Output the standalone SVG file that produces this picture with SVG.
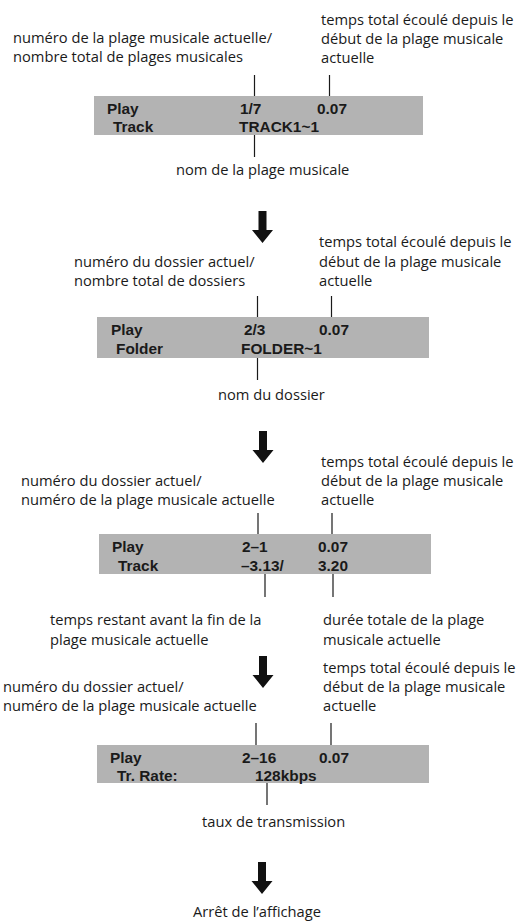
<svg xmlns="http://www.w3.org/2000/svg" width="521" height="921" viewBox="0 0 521 921">
<defs>
<style>
.lbl{font-family:"Open Sans","Noto Sans",sans-serif;font-size:14.7px;fill:#1a1a1a}
.bx{fill:#b3b3b3}
.bt{font-family:"Liberation Sans",Arial,sans-serif;font-size:15.4px;font-weight:bold;fill:#1a1a1a}
.tk{stroke:#1a1a1a;stroke-width:1.2;fill:none}
.ar{fill:#111}
</style>
<path id="arrow" d="M-4,0 H4 V19 H10.5 L0,32 L-10.5,19 H-4 Z"/>
</defs>
<rect width="521" height="921" fill="#fff"/>

<g id="panel1">
<text class="lbl" x="321" y="25">temps total écoulé depuis le</text>
<text class="lbl" x="321" y="44">début de la plage musicale</text>
<text class="lbl" x="321" y="63">actuelle</text>
<text class="lbl" x="13" y="43">numéro de la plage musicale actuelle/</text>
<text class="lbl" x="13" y="62">nombre total de plages musicales</text>
<rect class="bx" x="94" y="96" width="329" height="39"/>
<text class="bt" x="107" y="114">Play</text>
<text class="bt" x="113" y="132">Track</text>
<text class="bt" x="240" y="114">1/7</text>
<text class="bt" x="317" y="114">0.07</text>
<text class="bt" x="239" y="132">TRACK1~1</text>
<text class="lbl" x="176" y="175">nom de la plage musicale</text>
</g>

<g id="panel2">
<text class="lbl" x="319" y="247">temps total écoulé depuis le</text>
<text class="lbl" x="319" y="267">début de la plage musicale</text>
<text class="lbl" x="319" y="286">actuelle</text>
<text class="lbl" x="74" y="267">numéro du dossier actuel/</text>
<text class="lbl" x="74" y="286">nombre total de dossiers</text>
<rect class="bx" x="97" y="317" width="332" height="41"/>
<text class="bt" x="111" y="335">Play</text>
<text class="bt" x="116" y="354">Folder</text>
<text class="bt" x="244" y="335">2/3</text>
<text class="bt" x="319" y="335">0.07</text>
<text class="bt" x="241" y="354">FOLDER~1</text>
<text class="lbl" x="218" y="400">nom du dossier</text>
</g>

<g id="panel3">
<text class="lbl" x="321" y="467">temps total écoulé depuis le</text>
<text class="lbl" x="321" y="486">début de la plage musicale</text>
<text class="lbl" x="321" y="505">actuelle</text>
<text class="lbl" x="21" y="486">numéro du dossier actuel/</text>
<text class="lbl" x="21" y="505">numéro de la plage musicale actuelle</text>
<rect class="bx" x="99" y="534" width="332" height="40"/>
<text class="bt" x="112" y="552">Play</text>
<text class="bt" x="118" y="571">Track</text>
<text class="bt" x="242" y="552">2–1</text>
<text class="bt" x="318" y="552">0.07</text>
<text class="bt" x="241" y="571">–3.13/</text>
<text class="bt" x="318" y="571">3.20</text>
<text class="lbl" x="50" y="625">temps restant avant la fin de la</text>
<text class="lbl" x="50" y="645">plage musicale actuelle</text>
<text class="lbl" x="323" y="625">durée totale de la plage</text>
<text class="lbl" x="323" y="645">musicale actuelle</text>
</g>

<g id="panel4">
<text class="lbl" x="323" y="673">temps total écoulé depuis le</text>
<text class="lbl" x="323" y="692">début de la plage musicale</text>
<text class="lbl" x="323" y="711">actuelle</text>
<text class="lbl" x="3" y="692">numéro du dossier actuel/</text>
<text class="lbl" x="3" y="711">numéro de la plage musicale actuelle</text>
<rect class="bx" x="97" y="745" width="332" height="38"/>
<text class="bt" x="110" y="763">Play</text>
<text class="bt" x="117" y="781">Tr. Rate:</text>
<text class="bt" x="242" y="763">2–16</text>
<text class="bt" x="319" y="763">0.07</text>
<text class="bt" x="255" y="781">128kbps</text>
<text class="lbl" x="202" y="827">taux de transmission</text>
</g>

<g id="end">
<text class="lbl" x="193" y="917">Arrêt de l’affichage</text>
</g>

<g id="connectors">
<line class="tk" x1="254.5" y1="75" x2="254.5" y2="96"/>
<line class="tk" x1="329.5" y1="75" x2="329.5" y2="96"/>
<line class="tk" x1="254.5" y1="135" x2="254.5" y2="157"/>
<use href="#arrow" class="ar" x="262.5" y="211"/>
<line class="tk" x1="257.5" y1="296" x2="257.5" y2="317"/>
<line class="tk" x1="331.5" y1="296" x2="331.5" y2="317"/>
<line class="tk" x1="257.5" y1="358" x2="257.5" y2="380"/>
<use href="#arrow" class="ar" x="263" y="431"/>
<line class="tk" x1="258" y1="513" x2="258" y2="534"/>
<line class="tk" x1="332" y1="513" x2="332" y2="534"/>
<line class="tk" x1="265" y1="574" x2="265" y2="597"/>
<line class="tk" x1="333" y1="574" x2="333" y2="597"/>
<use href="#arrow" class="ar" x="263" y="656"/>
<line class="tk" x1="256" y1="723" x2="256" y2="745"/>
<line class="tk" x1="331" y1="723" x2="331" y2="745"/>
<line class="tk" x1="267" y1="783" x2="267" y2="805"/>
<use href="#arrow" class="ar" x="262" y="862"/>
</g>
</svg>
